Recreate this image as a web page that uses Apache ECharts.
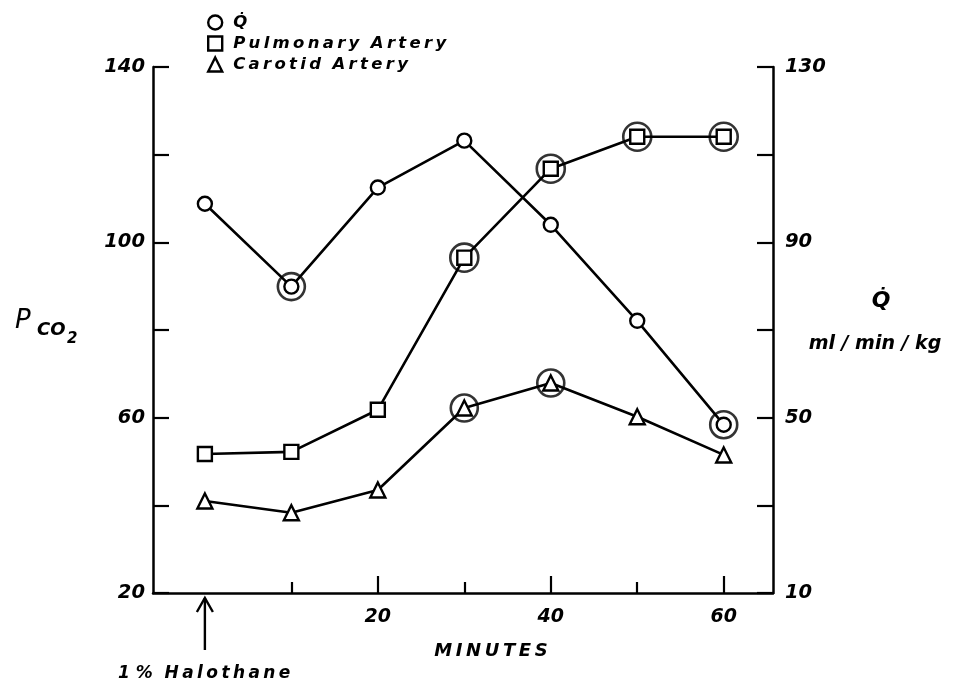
<!DOCTYPE html>
<html><head><meta charset="utf-8">
<script src="https://cdn.jsdelivr.net/npm/echarts@6/dist/echarts.min.js"></script>
<style>html,body{margin:0;padding:0;background:#fff}#c{width:963px;height:684px}</style>
</head><body><div id="c"></div>
<script>
const minutes = [0, 10, 20, 30, 40, 50, 60];
const qdot = [98.8, 79.9, 102.5, 113.2, 94, 72.1, 48.4];          // right axis, ml/min/kg
const pulmonary = [51.7, 52.2, 61.8, 96.5, 116.8, 124.1, 124.1];  // left axis, PCO2
const carotid = [41, 38.3, 43.5, 62.2, 67.9, 60.2, 51.5];         // left axis, PCO2
const qdotCircled = [10, 60];
const pulmonaryCircled = [30, 40, 50, 60];
const carotidCircled = [30, 40];
const leftTicks = [20, 40, 60, 80, 100, 120, 140];
const leftLabels = [20, 60, 100, 140];
const rightTicks = [10, 30, 50, 70, 90, 110, 130];
const rightLabels = [10, 50, 90, 130];
const xMajor = [20, 40, 60];
const xMinor = [10, 30, 50];
const QNAME = 'Q\u0307';

const FONT = "'DejaVu Sans', 'Liberation Sans', sans-serif";
const txt = {fontFamily: FONT, fontStyle: 'italic', fontWeight: 'bold', color: '#000'};
const spaced = s => s.split('').join('\u2009');

function pairs(vals) { return minutes.map((m, i) => [m, vals[i]]); }
function circled(vals, which) { return which.map(m => [m, vals[minutes.indexOf(m)]]); }

const chart = echarts.init(document.getElementById('c'), null, {renderer: 'canvas'});
const sym = {color: '#fff', borderColor: '#000', borderWidth: 2.4};
const line = {color: '#000', width: 2.6};
const ring = {color: 'rgba(0,0,0,0)', borderColor: '#000', borderWidth: 2.6};
const PULM = spaced('Pulmonary') + '  ' + spaced('Artery');
const CAR = spaced('Carotid') + '  ' + spaced('Artery');

chart.setOption({
  animation: false,
  backgroundColor: '#fff',
  grid: {left: 153, right: 190, top: 67, bottom: 91, containLabel: false},
  legend: {
    orient: 'vertical', left: 202, top: 9, itemGap: 4, itemWidth: 14, itemHeight: 14,
    selectedMode: false,
    textStyle: Object.assign({}, txt, {fontSize: 16.5, padding: [0, 0, 0, 6]}),
    itemStyle: {color: '#fff', borderColor: '#000', borderWidth: 2.4},
    data: [
      {name: QNAME, icon: 'circle'},
      {name: PULM, icon: 'rect'},
      {name: CAR, icon: 'triangle'}
    ]
  },
  xAxis: [{
    type: 'value', min: -6, max: 65.7, position: 'bottom',
    axisLine: {onZero: false, lineStyle: {color: '#000', width: 2.5}},
    axisTick: {inside: true, length: 17, lineStyle: {color: '#000', width: 2.2}, customValues: xMajor},
    axisLabel: Object.assign({}, txt, {fontSize: 19, margin: 15, customValues: xMajor}),
    splitLine: {show: false}
  }, {
    type: 'value', min: -6, max: 65.7, position: 'bottom',
    axisLine: {show: false, onZero: false},
    axisTick: {inside: true, length: 11, lineStyle: {color: '#000', width: 2.2}, customValues: xMinor},
    axisLabel: {show: false},
    splitLine: {show: false}
  }],
  yAxis: [{
    type: 'value', min: 20, max: 140, position: 'left',
    axisLine: {show: true, onZero: false, lineStyle: {color: '#000', width: 2.5}},
    axisTick: {show: true, inside: true, length: 16, lineStyle: {color: '#000', width: 2.2}, customValues: leftTicks},
    axisLabel: Object.assign({}, txt, {fontSize: 19.5, margin: 8, customValues: leftLabels}),
    splitLine: {show: false}
  }, {
    type: 'value', min: 10, max: 130, position: 'right',
    axisLine: {show: true, onZero: false, lineStyle: {color: '#000', width: 2.5}},
    axisTick: {show: true, inside: true, length: 16, lineStyle: {color: '#000', width: 2.2}, customValues: rightTicks},
    axisLabel: Object.assign({}, txt, {fontSize: 19.5, margin: 12, customValues: rightLabels}),
    splitLine: {show: false}
  }],
  series: [
    {name: QNAME, type: 'line', yAxisIndex: 1, data: pairs(qdot), symbol: 'circle', symbolSize: 14,
     itemStyle: sym, lineStyle: line, z: 3},
    {name: PULM, type: 'line', yAxisIndex: 0, data: pairs(pulmonary), symbol: 'rect', symbolSize: 14,
     itemStyle: sym, lineStyle: line, z: 3},
    {name: CAR, type: 'line', yAxisIndex: 0, data: pairs(carotid), symbol: 'triangle', symbolSize: 15,
     itemStyle: sym, lineStyle: line, z: 3},
    {type: 'scatter', yAxisIndex: 1, data: circled(qdot, qdotCircled), symbol: 'circle', symbolSize: 27,
     itemStyle: ring, z: 4, silent: true},
    {type: 'scatter', yAxisIndex: 0, data: circled(pulmonary, pulmonaryCircled), symbol: 'circle', symbolSize: 28,
     itemStyle: ring, z: 4, silent: true},
    {type: 'scatter', yAxisIndex: 0, data: circled(carotid, carotidCircled), symbol: 'circle', symbolSize: 27,
     itemStyle: ring, z: 4, silent: true}
  ]
});

const x0 = chart.convertToPixel({xAxisIndex: 0}, 0);
const tstyle = (o) => Object.assign({fontFamily: FONT, fontStyle: 'italic', fontWeight: 'bold', fill: '#000'}, o);
chart.setOption({
  graphic: [
    {type: 'line', shape: {x1: x0, y1: 598, x2: x0, y2: 650}, style: {stroke: '#000', lineWidth: 2.4}},
    {type: 'polyline', shape: {points: [[x0 - 8, 612], [x0, 598], [x0 + 8, 612]]}, style: {stroke: '#000', lineWidth: 2.4, fill: null}},
    {type: 'text', x: 118, y: 665, style: tstyle({text: '1 %  ' + spaced('Halothane'), fontSize: 17})},
    {type: 'text', x: 491, y: 642, style: tstyle({text: spaced('MINUTES'), fontSize: 18, align: 'center'})},
    {type: 'text', x: 15, y: 308, style: tstyle({text: 'P', fontSize: 26, fontWeight: 'normal'})},
    {type: 'text', x: 37, y: 321, style: tstyle({text: 'CO', fontSize: 18})},
    {type: 'text', x: 67, y: 332, style: tstyle({text: '2', fontSize: 15})},
    {type: 'text', x: 881, y: 290, style: tstyle({text: QNAME, fontSize: 22, align: 'center'})},
    {type: 'text', x: 875, y: 335, style: tstyle({text: 'ml / min / kg', fontSize: 19, align: 'center'})}
  ]
});
</script></body></html>
